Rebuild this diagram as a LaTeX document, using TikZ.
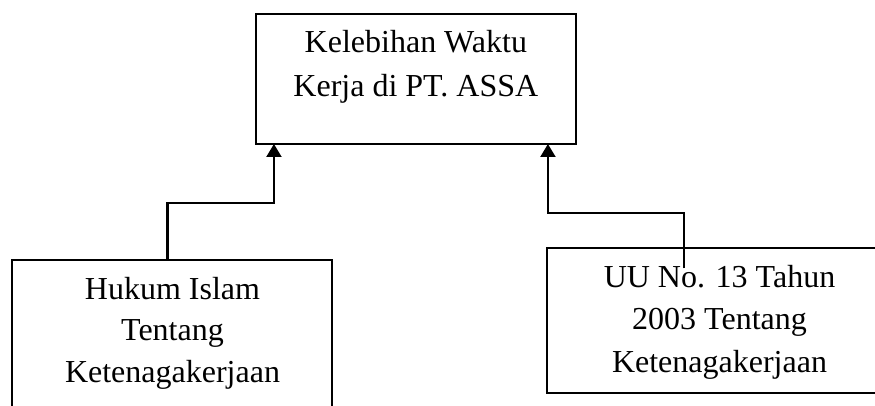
\documentclass[tikz,border=0pt]{standalone}
\usepackage{fontspec}
\setmainfont{Liberation Serif}
\usetikzlibrary{arrows.meta}
\begin{document}
\begin{tikzpicture}[x=1pt,y=-1pt,
  box/.style={draw, line width=1.8pt, inner sep=0pt, outer sep=0pt},
  btext/.style={align=center, inner sep=0pt, anchor=base},
  arr/.style={line width=2.2pt, -{Triangle[width=15pt,length=13pt]}}]
\useasboundingbox[fill=white] (0,0) rectangle (875,406);
\node[box, minimum width=320.3pt, minimum height=130pt] (T) at (415.85,79) {};
\node[box, minimum width=319.4pt, minimum height=160pt] (L) at (172,340) {};
\node[box, minimum width=342.4pt, minimum height=144.4pt] (R) at (718.5,320.5) {};
\node[btext, font=\fontsize{32pt}{44pt}\selectfont] (Tt) at (415.85,97) {Kelebihan Waktu\\Kerja di PT. ASSA};
\node[btext, font=\fontsize{32pt}{41.5pt}\selectfont] (Lt) at (172.5,382) {Hukum Islam\\Tentang\\Ketenagakerjaan};
\node[btext, font=\fontsize{32pt}{42.5pt}\selectfont] (Rt) at (719.5,372) {UU No. 13 Tahun\\2003 Tentang\\Ketenagakerjaan};
\coordinate (lbend) at (167.5,202.7);
\coordinate (rbend) at (684.3,213.3);
\draw[arr] (L.north -| lbend) -- (lbend) -| ([xshift=-141.9pt]T.south);
\draw[arr] ([yshift=-20pt]R.north -| rbend) -- (rbend) -| ([xshift=132.1pt]T.south);
\end{tikzpicture}
\end{document}
